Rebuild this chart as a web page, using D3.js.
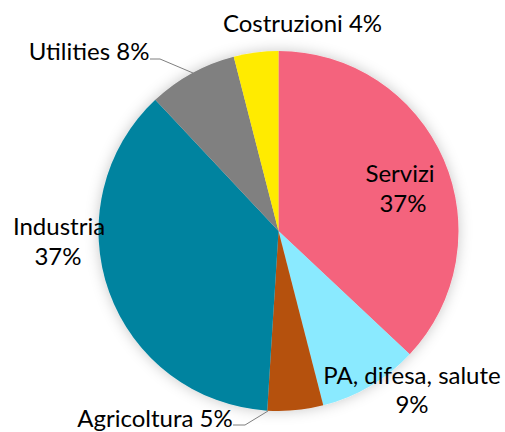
<!DOCTYPE html>
<html>
<head>
<meta charset="utf-8">
<script src="https://cdn.jsdelivr.net/npm/d3@7"></script>
<style>
html,body{margin:0;padding:0;background:#fff;}
svg{display:block;}
text{font-family:Lato, "Open Sans", sans-serif;font-size:24px;fill:#000;}
</style>
</head>
<body>
<svg id="chart" width="505" height="432"></svg>
<script>
const categories = ["Servizi", "PA, difesa, salute", "Agricoltura", "Industria", "Utilities", "Costruzioni"];
const values = [37, 9, 5, 37, 8, 4];
const colors = ["#F4637D", "#8AEAFF", "#B5510F", "#00839F", "#808080", "#FFEB00"];

const W = 505, H = 432;
const cx = 278.5, cy = 231, R = 180;
const svg = d3.select("#chart");

const defs = svg.append("defs");
const f = defs.append("filter").attr("id","sh").attr("x","-20%").attr("y","-20%").attr("width","140%").attr("height","140%");
f.append("feDropShadow").attr("dx",0).attr("dy",0).attr("stdDeviation",7).attr("flood-color","#000").attr("flood-opacity",0.22);

const pie = d3.pie().sort(null).value(d => d)(values);
const arc = d3.arc().innerRadius(0).outerRadius(R);
const g = svg.append("g").attr("transform", `translate(${cx},${cy})`);
g.append("g").attr("filter","url(#sh)")
  .selectAll("path").data(pie).join("path")
  .attr("d", arc).attr("fill", (d,i) => colors[i]);

// labels
const labels = [
  {lines:[categories[0], values[0]+"%"], x:[400,403], y:[182,212]},
  {lines:[categories[1], values[1]+"%"], x:[412,412], y:[384,413]},
  {lines:[categories[2]+" "+values[2]+"%"], x:[155], y:[427]},
  {lines:[categories[3], values[3]+"%"], x:[59,58], y:[235,265]},
  {lines:[categories[4]+" "+values[4]+"%"], x:[89], y:[60]},
  {lines:[categories[5]+" "+values[5]+"%"], x:[302.5], y:[32]}
];
labels.forEach(l => {
  l.lines.forEach((t,j) => {
    svg.append("text").attr("x", l.x[j]).attr("y", l.y[j]).attr("text-anchor", "middle").text(t);
  });
});

// leader lines
const leader = (pts) => svg.append("polyline").attr("points", pts.map(p=>p.join(",")).join(" "))
  .attr("fill","none").attr("stroke","#7f7f7f").attr("stroke-width",1);
leader([[150,59],[160,59],[193,73]]);
leader([[233,425],[245,425],[268,411]]);
</script>
</body>
</html>
